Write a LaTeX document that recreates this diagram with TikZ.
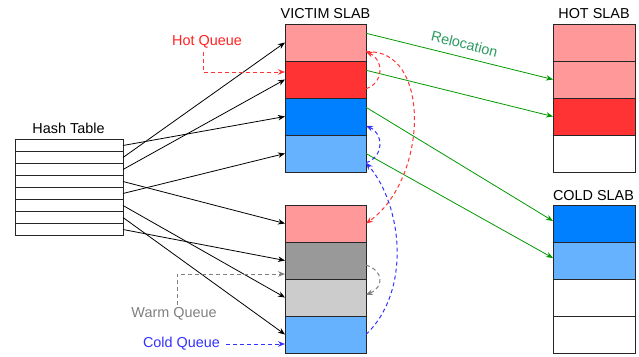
\documentclass[tikz,border=0pt]{standalone}
\usepackage{fontspec}
\setmainfont{Liberation Sans}
\usetikzlibrary{arrows.meta,calc}

\definecolor{pinkc}{HTML}{FF9999}
\definecolor{redc}{HTML}{FF3333}
\definecolor{bluec}{HTML}{007FFF}
\definecolor{lbluec}{HTML}{66B2FF}
\definecolor{grayc}{HTML}{999999}
\definecolor{lgrayc}{HTML}{CCCCCC}
\definecolor{greenc}{HTML}{009900}
\definecolor{relocc}{HTML}{2E9B62}
\definecolor{hotq}{HTML}{FF2222}
\definecolor{warmq}{HTML}{808080}
\definecolor{coldq}{HTML}{3333FF}

\begin{document}
\begin{tikzpicture}[x=1pt,y=-1pt,
  cell/.style={draw=black!85, line width=1pt, minimum width=81pt, minimum height=37pt, inner sep=0pt, outer sep=0pt},
  slabcell/.style={cell, minimum width=82pt},
  hrow/.style={draw=black!85, line width=0.8pt, minimum width=108pt, minimum height=12pt, inner sep=0pt, outer sep=0pt},
  lbl/.style={font=\fontsize{14.4}{17}\selectfont, inner sep=0pt, anchor=base},
  tip/.style={-{Stealth[length=7pt,width=5.5pt]}},
  ptr/.style={tip, line width=0.8pt, black},
  reloc/.style={tip, line width=0.8pt, greenc},
  queue/.style={tip, line width=1pt, dash pattern=on 4pt off 3pt},
]
\useasboundingbox[fill=white] (0,0) rectangle (639,356);

% hash table
\node[lbl] (htlabel) at (68.5,133.3) {Hash Table};
\foreach \i in {1,...,8}
  \node[hrow] (h\i) at (69,{133.5+12*\i}) {};

% victim slab
\node[lbl] (vlabel) at (325.5,18.3) {VICTIM SLAB};
\node[cell,fill=pinkc]  (v1) at (325.5,42.5) {};
\node[cell,fill=redc]   (v2) at (325.5,79.5) {};
\node[cell,fill=bluec]  (v3) at (325.5,116.5) {};
\node[cell,fill=lbluec] (v4) at (325.5,153.5) {};
\node[cell,fill=pinkc]  (w1) at (325.5,223.5) {};
\node[cell,fill=grayc]  (w2) at (325.5,260.5) {};
\node[cell,fill=lgrayc] (w3) at (325.5,297.5) {};
\node[cell,fill=lbluec] (w4) at (325.5,334.5) {};

% hot slab
\node[lbl] (hlabel) at (594,18.3) {HOT SLAB};
\node[slabcell,fill=pinkc] (s1) at (594,42.5) {};
\node[slabcell,fill=pinkc] (s2) at (594,79.5) {};
\node[slabcell,fill=redc]  (s3) at (594,116.5) {};
\node[slabcell,fill=white] (s4) at (594,153.5) {};

% cold slab
\node[lbl] (clabel) at (593.5,200) {COLD SLAB};
\node[slabcell,fill=bluec]  (c1) at (594,223.5) {};
\node[slabcell,fill=lbluec] (c2) at (594,260.5) {};
\node[slabcell,fill=white]  (c3) at (594,297.5) {};
\node[slabcell,fill=white]  (c4) at (594,334.5) {};

% hash buckets to items
\draw[ptr] (h1.east) -- (v3.west);
\draw[ptr] (h2.east) -- (v1.west);
\draw[ptr] (h3.east) -- (v2.west);
\draw[ptr] (h4.east) -- (w1.west);
\draw[ptr] (h5.east) -- (v4.west);
\draw[ptr] (h6.east) -- (w3.west);
\draw[ptr] (h7.east) -- (w4.west);
\draw[ptr] (h8.east) -- (w2.west);

% relocation
\draw[reloc] ([yshift=9.25pt]v1.east) -- (s2.west);
\draw[reloc] ([yshift=9.25pt]v2.east) -- (s3.west);
\draw[reloc] ([yshift=9.25pt]v3.east) -- ([yshift=2.5pt]c1.west);
\draw[reloc] (v4.east) -- ([yshift=2.5pt]c2.west);
\node[lbl, text=relocc, rotate=-14, anchor=center] (rlabel) at (464.5,44) {Relocation};

% hot queue
\node[lbl, text=hotq] (hqlabel) at (207,45.5) {Hot Queue};
\coordinate (hqtail) at (203,52);
\draw[queue, redc] (hqtail) |- ([yshift=7.5pt]v2.west);
\draw[queue, redc] ([yshift=-9.25pt]v2.east) .. controls +(18,-6) and +(18,8) .. ([yshift=-9.25pt]v1.east);
\draw[queue, redc] ([yshift=-9.25pt]v1.east) .. controls +(66,-4) and +(62,-44) .. (w1.east);

% warm queue
\node[lbl, text=warmq] (wqlabel) at (174,317.6) {Warm Queue};
\coordinate (wqtail) at (177,305);
\draw[queue, warmq] (wqtail) |- ([yshift=-13.5pt]w2.west);
\draw[queue, warmq] ([yshift=-4.5pt]w2.east) .. controls +(18,6) and +(18,-8) .. ([yshift=2.5pt]w3.east);

% cold queue
\node[lbl, text=coldq] (cqlabel) at (181.5,347.5) {Cold Queue};
\coordinate (cqtail) at (226,344);
\draw[queue, coldq] (cqtail) -- (cqtail -| w4.west);
\draw[queue, coldq] (w4.east) .. controls +(46,-44) and +(36,42) .. ([yshift=-9.25pt]v4.east);
\draw[queue, coldq] ([yshift=-9.25pt]v4.east) .. controls +(18,-6) and +(18,8) .. ([yshift=-9.25pt]v3.east);
\end{tikzpicture}
\end{document}
